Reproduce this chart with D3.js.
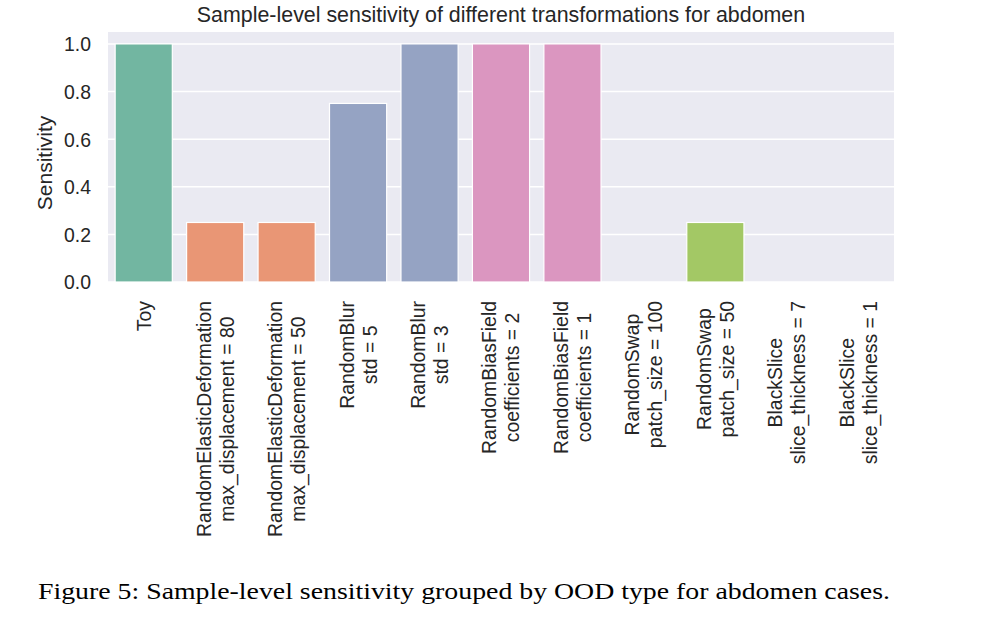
<!DOCTYPE html>
<html>
<head>
<meta charset="utf-8">
<script src="https://cdn.jsdelivr.net/npm/d3@7"></script>
<style>
  body { margin: 0; background: #fff; }
  svg { display: block; font-family: "Liberation Sans", Arial, sans-serif; }
</style>
</head>
<body>
<div id="chart"></div>
<script>
// données
const categories = [
  "Toy",
  "RandomElasticDeformation\nmax_displacement = 80",
  "RandomElasticDeformation\nmax_displacement = 50",
  "RandomBlur\nstd = 5",
  "RandomBlur\nstd = 3",
  "RandomBiasField\ncoefficients = 2",
  "RandomBiasField\ncoefficients = 1",
  "RandomSwap\npatch_size = 100",
  "RandomSwap\npatch_size = 50",
  "BlackSlice\nslice_thickness = 7",
  "BlackSlice\nslice_thickness = 1"
];
const sensitivity = [1.0, 0.25, 0.25, 0.75, 1.0, 1.0, 1.0, 0.0, 0.25, 0.0, 0.0];
const groups = ["Toy", "Elastic", "Elastic", "Blur", "Blur", "Bias", "Bias", "Swap", "Swap", "Black", "Black"];
const groupColors = ["#72b6a1", "#e99675", "#95a3c3", "#db96c0", "#a3c865", "#d7c16b"];
const yTicks = [0.0, 0.2, 0.4, 0.6, 0.8, 1.0];

const width = 999, height = 618;
const margin = { top: 32, right: 105, bottom: 336, left: 108 };
const plotW = width - margin.left - margin.right;
const plotH = height - margin.top - margin.bottom;

const svg = d3.select("#chart").append("svg")
  .attr("width", width)
  .attr("height", height);

const g = svg.append("g").attr("transform", `translate(${margin.left},${margin.top})`);

const x = d3.scaleBand().domain(d3.range(categories.length)).range([0, plotW]).paddingInner(0.2).paddingOuter(0.1);
const y = d3.scaleLinear().domain([0, 1.05]).range([plotH, 0]);
const color = d3.scaleOrdinal().domain(["Toy", "Elastic", "Blur", "Bias", "Swap", "Black"]).range(groupColors);

// fond
g.append("rect").attr("width", plotW).attr("height", plotH).attr("fill", "#eaeaf2");

// grille
g.selectAll(".grid").data(yTicks).join("line")
  .attr("x1", 0).attr("x2", plotW)
  .attr("y1", d => y(d)).attr("y2", d => y(d))
  .attr("stroke", "#fff").attr("stroke-width", 1.5);

// barres
g.selectAll(".bar").data(sensitivity).join("rect")
  .attr("x", (d, i) => x(i))
  .attr("y", d => y(d))
  .attr("width", x.bandwidth())
  .attr("height", d => y(0) - y(d))
  .attr("fill", (d, i) => color(groups[i]))
  .attr("stroke", "#fff")
  .attr("stroke-width", d => d > 0 ? 1.2 : 0);

// axe Y
const yAxis = g.append("g").call(d3.axisLeft(y).tickValues(yTicks).tickFormat(d3.format(".1f")).tickSize(0).tickPadding(17));
yAxis.select(".domain").remove();
yAxis.selectAll("text").attr("font-size", 19.4).attr("fill", "#262626").attr("dy", "0.36em");

// axe X : étiquettes multi-lignes tournées
const lh = 23;
const xLab = g.append("g").attr("transform", `translate(0,${plotH + 19})`);
categories.forEach((c, i) => {
  const lines = c.split("\n");
  const cx = x(i) + x.bandwidth() / 2;
  const t = xLab.append("g").attr("transform", `translate(${cx},0) rotate(-90)`)
    .append("text").attr("font-size", 19.4).attr("fill", "#262626").attr("text-anchor", "middle");
  const spans = lines.map((l, k) => t.append("tspan")
    .attr("y", (k - (lines.length - 1) / 2) * lh)
    .attr("dy", "0.36em")
    .text(l));
  const maxW = d3.max(spans, s => s.node().getComputedTextLength());
  spans.forEach(s => s.attr("x", -maxW / 2));
});

// titre et étiquette Y
svg.append("text").attr("x", margin.left + plotW / 2).attr("y", 22)
  .attr("text-anchor", "middle").attr("font-size", 21.4).attr("fill", "#262626")
  .text("Sample-level sensitivity of different transformations for abdomen");

svg.append("text").attr("transform", `translate(52,${margin.top + y(0.5)}) rotate(-90)`)
  .attr("text-anchor", "middle").attr("font-size", 21).attr("fill", "#262626")
  .text("Sensitivity");

// légende de la figure
svg.append("text").attr("x", 38).attr("y", 599)
  .attr("font-family", "'Liberation Serif', 'DejaVu Serif', serif")
  .attr("font-size", 24).attr("fill", "#000")
  .attr("textLength", 852).attr("lengthAdjust", "spacingAndGlyphs")
  .text("Figure 5: Sample-level sensitivity grouped by OOD type for abdomen cases.");
</script>
</body>
</html>
